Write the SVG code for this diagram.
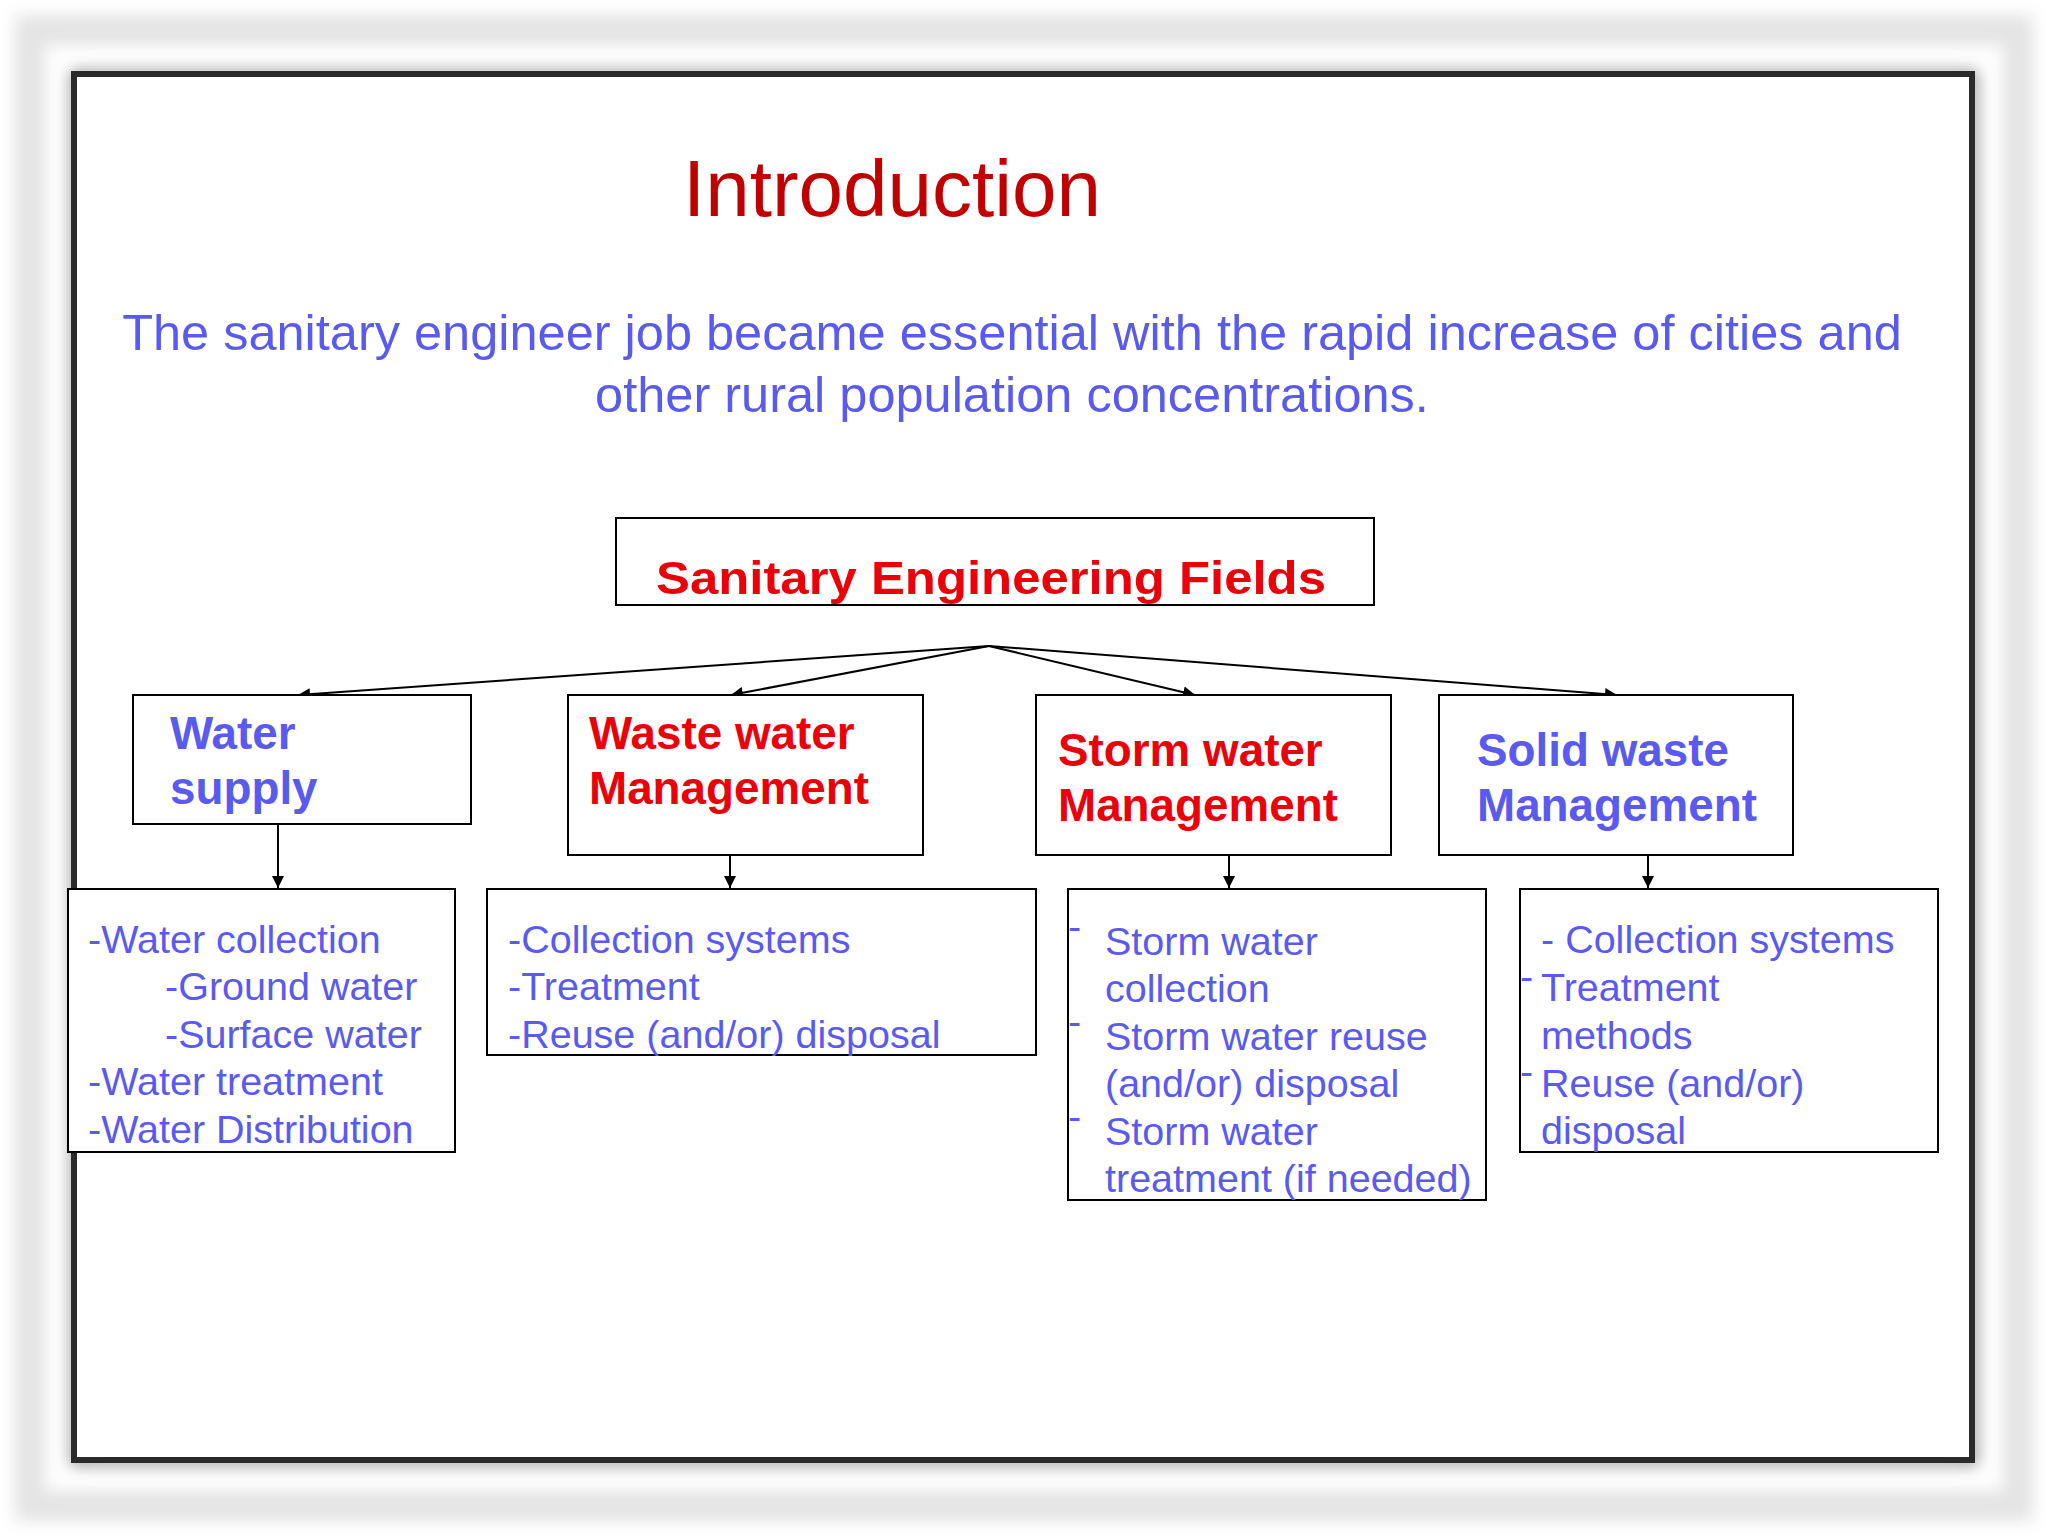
<svg xmlns="http://www.w3.org/2000/svg" width="2048" height="1536" viewBox="0 0 2048 1536">
<defs>
<marker id="ah" viewBox="0 0 10 10" refX="10" refY="5" markerWidth="12" markerHeight="12" markerUnits="userSpaceOnUse" orient="auto"><path d="M0,0L10,5L0,10z" fill="#000"/></marker>
<filter id="bl" x="-5%" y="-5%" width="110%" height="110%"><feGaussianBlur stdDeviation="8"/></filter>
</defs>
<style>
.box{fill:#fff;stroke:#000;stroke-width:2}
.hd{font-family:"Liberation Sans",Arial,sans-serif;font-weight:bold;font-size:45.8px}
.r{fill:#e8000b}.b{fill:#5a5aee}
.t{font-family:"Liberation Sans",Arial,sans-serif;font-size:39.5px;fill:#5a5aee}
.c{stroke:#000;stroke-width:2;fill:none;marker-end:url(#ah)}
</style>
<rect width="2048" height="1536" fill="#fff"/>
<rect x="30" y="30" width="1988" height="1476" fill="none" stroke="#e4e4e4" stroke-width="30" filter="url(#bl)"/>
<rect x="76" y="76" width="1896" height="1384" fill="none" stroke="#888" stroke-width="10" filter="url(#bl)"/>
<rect x="74" y="74" width="1898" height="1386" fill="#fff" stroke="#2a2a2a" stroke-width="6"/>
<text x="892" y="216" text-anchor="middle" font-family="Liberation Sans,Arial,sans-serif" font-size="80" fill="#c00000">Introduction</text>
<text x="1012" y="350" text-anchor="middle" font-family="Liberation Sans,Arial,sans-serif" font-size="50.5" fill="#5a5aee">The sanitary engineer job became essential with the rapid increase of cities and</text>
<text x="1012" y="412" text-anchor="middle" font-family="Liberation Sans,Arial,sans-serif" font-size="50.5" fill="#5a5aee">other rural population concentrations.</text>
<g id="connectors">
<line class="c" x1="989" y1="646" x2="298" y2="695"/>
<line class="c" x1="989" y1="646" x2="731" y2="695"/>
<line class="c" x1="989" y1="646" x2="1195" y2="695"/>
<line class="c" x1="989" y1="646" x2="1617" y2="695"/>
<line class="c" x1="278" y1="824" x2="278" y2="888"/>
<line class="c" x1="730" y1="855" x2="730" y2="888"/>
<line class="c" x1="1229" y1="855" x2="1229" y2="888"/>
<line class="c" x1="1648" y1="855" x2="1648" y2="888"/>
</g>
<g id="root"><rect class="box" x="616" y="518" width="758" height="87"/><text class="hd r" x="656" y="594" font-size="54" textLength="670" lengthAdjust="spacingAndGlyphs">Sanitary Engineering Fields</text></g>
<g id="water"><rect class="box" x="133" y="695" width="338" height="129"/><text class="hd b" x="170" y="749">Water</text><text class="hd b" x="170" y="804">supply</text></g>
<g id="waste"><rect class="box" x="568" y="695" width="355" height="160"/><text class="hd r" x="589" y="749">Waste water</text><text class="hd r" x="589" y="804">Management</text></g>
<g id="storm"><rect class="box" x="1036" y="695" width="355" height="160"/><text class="hd r" x="1058" y="766">Storm water</text><text class="hd r" x="1058" y="821">Management</text></g>
<g id="solid"><rect class="box" x="1439" y="695" width="354" height="160"/><text class="hd b" x="1477" y="766">Solid waste</text><text class="hd b" x="1477" y="821">Management</text></g>
<g id="water-d"><rect class="box" x="68" y="889" width="387" height="263"/>
<text class="t" x="88" y="953">-Water collection</text><text class="t" x="165" y="1000">-Ground water</text><text class="t" x="165" y="1048">-Surface water</text><text class="t" x="88" y="1095">-Water treatment</text><text class="t" x="88" y="1143">-Water Distribution</text></g>
<g id="waste-d"><rect class="box" x="487" y="889" width="549" height="166"/>
<text class="t" x="508" y="953">-Collection systems</text><text class="t" x="508" y="1000">-Treatment</text><text class="t" x="508" y="1048">-Reuse (and/or) disposal</text></g>
<g id="storm-d"><rect class="box" x="1068" y="889" width="418" height="311"/>
<text class="t" x="1068" y="940">-</text><text class="t" x="1068" y="1035">-</text><text class="t" x="1068" y="1130">-</text>
<text class="t" x="1105" y="955">Storm water</text><text class="t" x="1105" y="1002">collection</text><text class="t" x="1105" y="1050">Storm water reuse</text><text class="t" x="1105" y="1097">(and/or) disposal</text><text class="t" x="1105" y="1145">Storm water</text><text class="t" x="1105" y="1192">treatment (if needed)</text></g>
<g id="solid-d"><rect class="box" x="1520" y="889" width="418" height="263"/>
<text class="t" x="1541" y="953">- Collection systems</text><text class="t" x="1520" y="990">-</text><text class="t" x="1520" y="1085">-</text>
<text class="t" x="1541" y="1001">Treatment</text><text class="t" x="1541" y="1049">methods</text><text class="t" x="1541" y="1097">Reuse (and/or)</text><text class="t" x="1541" y="1144">disposal</text></g>
</svg>
